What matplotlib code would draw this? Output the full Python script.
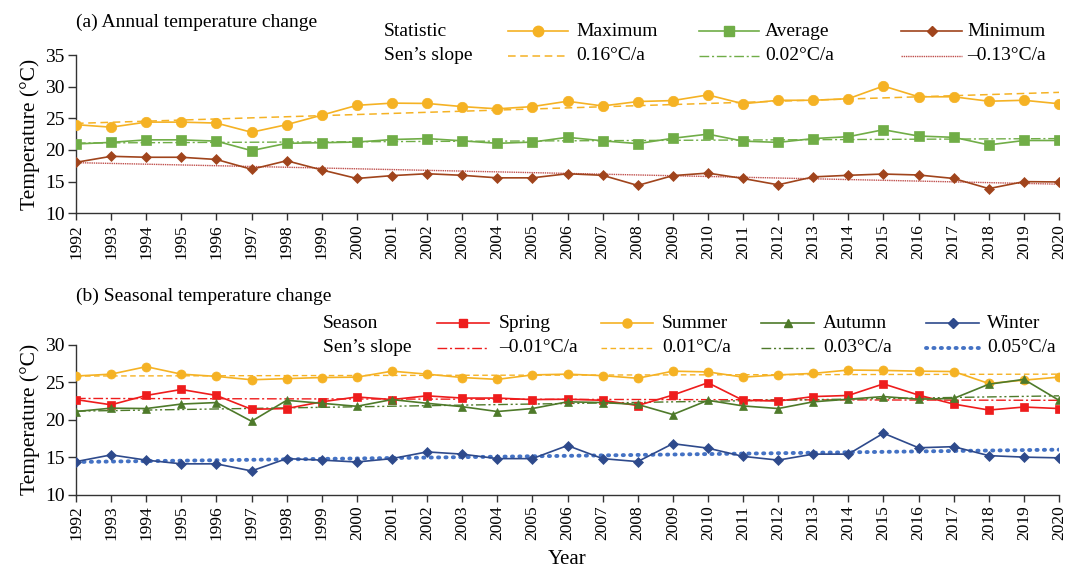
import matplotlib
matplotlib.use("Agg")
import matplotlib.pyplot as plt
from matplotlib.lines import Line2D
import numpy as np

plt.rcParams['font.family'] = ['Liberation Serif', 'DejaVu Serif']
plt.rcParams['mathtext.fontset'] = 'stix'

years = list(range(1992, 2021))

# Panel (a): annual statistics
t_max = [24.0, 23.6, 24.4, 24.4, 24.25, 22.8, 24.0, 25.5, 27.05, 27.4, 27.35, 26.85, 26.5, 26.85,
         27.7, 26.95, 27.65, 27.8, 28.7, 27.3, 27.85, 27.85, 28.1, 30.1, 28.4, 28.4, 27.7, 27.85, 27.3]
t_avg = [20.95, 21.2, 21.6, 21.6, 21.4, 19.9, 21.05, 21.15, 21.25, 21.65, 21.8, 21.45, 21.05, 21.25,
         22.0, 21.45, 21.0, 21.85, 22.5, 21.4, 21.2, 21.8, 22.1, 23.2, 22.2, 22.0, 20.8, 21.5, 21.5]
t_min = [18.05, 19.0, 18.85, 18.85, 18.5, 16.95, 18.3, 16.85, 15.5, 15.95, 16.25, 16.0, 15.6, 15.6,
         16.25, 16.0, 14.4, 15.95, 16.35, 15.5, 14.5, 15.75, 16.0, 16.2, 16.05, 15.5, 13.9, 15.0, 14.95]
annual_labels = ['Maximum', 'Average', 'Minimum']
annual_slopes = ['0.16°C/a', '0.02°C/a', '–0.13°C/a']
annual_trend_start = [24.2, 21.1, 18.0]
annual_trend_end = [29.1, 21.8, 14.6]

# Panel (b): seasonal means
t_spring = [22.7, 22.0, 23.25, 24.05, 23.25, 21.4, 21.5, 22.4, 23.05, 22.7, 23.2, 22.9, 22.9, 22.7,
            22.75, 22.6, 21.9, 23.3, 24.95, 22.6, 22.5, 23.1, 23.25, 24.8, 23.3, 22.1, 21.3, 21.7, 21.5]
t_summer = [25.85, 26.1, 27.1, 26.1, 25.8, 25.35, 25.5, 25.65, 25.7, 26.5, 26.1, 25.65, 25.4, 26.0,
            26.1, 25.9, 25.55, 26.5, 26.4, 25.7, 26.0, 26.2, 26.65, 26.6, 26.5, 26.45, 24.85, 25.3, 25.7]
t_autumn = [21.1, 21.55, 21.5, 22.1, 22.3, 19.8, 22.6, 22.2, 21.8, 22.7, 22.2, 21.75, 21.1, 21.5,
            22.4, 22.3, 22.05, 20.7, 22.6, 21.85, 21.5, 22.4, 22.75, 23.1, 22.75, 22.85, 24.75, 25.4, 22.6]
t_winter = [14.4, 15.3, 14.6, 14.1, 14.1, 13.15, 14.8, 14.6, 14.35, 14.8, 15.7, 15.4, 14.8, 14.8,
            16.55, 14.8, 14.4, 16.8, 16.2, 15.1, 14.6, 15.4, 15.4, 18.2, 16.25, 16.4, 15.2, 15.0, 14.9]
season_labels = ['Spring', 'Summer', 'Autumn', 'Winter']
season_slopes = ['–0.01°C/a', '0.01°C/a', '0.03°C/a', '0.05°C/a']
season_trend_start = [22.85, 25.85, 21.15, 14.35]
season_trend_end = [22.6, 26.1, 23.2, 16.0]

# ---------------- styling ----------------
W, H = 1072, 574
fig = plt.figure(figsize=(W / 100, H / 100), dpi=100)

def fx(x):
    return x / W

def fy(y):
    return 1 - y / H

C_MAX = '#F5B224'
C_AVG = '#70AD47'
C_MIN = '#A0441C'
C_MINT = '#C0504D'
C_SPR = '#EE1C1C'
C_SUM = '#F5B224'
C_AUT = '#4E7A2A'
C_WIN = '#2E4A8C'
C_WINT = '#4472C4'
SPINE = '#333333'

ax1 = fig.add_axes([fx(76), fy(213.3), fx(1059) - fx(76), fy(55) - fy(213.3)])
ax2 = fig.add_axes([fx(76), fy(494.5), fx(1059) - fx(76), fy(345) - fy(494.5)])

annual_series = [t_max, t_avg, t_min]
annual_colors = [C_MAX, C_AVG, C_MIN]
annual_trend_colors = [C_MAX, C_AVG, C_MINT]
annual_markers = [('o', 7.5), ('s', 6.8), ('D', 5.2)]
annual_trend_ls = [(0, (5, 3)), (0, (7, 2, 1.5, 2)), (0, (1, 0.6))]
annual_trend_lw = [1.1, 1.0, 1.0]

for i, s in enumerate(annual_series):
    ax1.plot([years[0], years[-1]], [annual_trend_start[i], annual_trend_end[i]],
             color=annual_trend_colors[i], ls=annual_trend_ls[i], lw=annual_trend_lw[i], zorder=2)
for i, s in enumerate(annual_series):
    m, ms = annual_markers[i]
    ax1.plot(years, s, color=annual_colors[i], marker=m, ms=ms, lw=1.2, zorder=3,
             markeredgewidth=0.5, markeredgecolor=annual_colors[i])

season_series = [t_spring, t_summer, t_autumn, t_winter]
season_colors = [C_SPR, C_SUM, C_AUT, C_WIN]
season_trend_colors = [C_SPR, C_SUM, C_AUT, C_WINT]
season_markers = [('s', 6.0), ('o', 6.5), ('^', 6.0), ('D', 4.6)]
season_trend_ls = [(0, (7, 2, 1.5, 2)), (0, (4, 2.5)), (0, (7, 2, 1.5, 2, 1.5, 2)), (0, (0.3, 1.6))]
season_trend_lw = [1.0, 1.0, 1.0, 2.8]
season_trend_cap = ['butt', 'butt', 'butt', 'round']

for i, s in enumerate(season_series):
    ax2.plot([years[0], years[-1]], [season_trend_start[i], season_trend_end[i]],
             color=season_trend_colors[i], ls=season_trend_ls[i], lw=season_trend_lw[i],
             dash_capstyle=season_trend_cap[i], zorder=2)
for i, s in enumerate(season_series):
    m, ms = season_markers[i]
    ax2.plot(years, s, color=season_colors[i], marker=m, ms=ms, lw=1.2, zorder=3,
             markeredgewidth=0.5, markeredgecolor=season_colors[i])

for ax, (lo, hi) in [(ax1, (10, 35)), (ax2, (10, 30))]:
    ax.set_xlim(1992, 2020)
    ax.set_ylim(lo, hi)
    ax.set_yticks(np.arange(lo, hi + 1, 5))
    ax.set_xticks(years)
    ax.set_xticklabels([str(y) for y in years], rotation=90, fontsize=12.5)
    ax.tick_params(axis='y', labelsize=14, length=6, width=1, color=SPINE, direction='out', pad=2)
    ax.tick_params(axis='x', length=5, width=1, color=SPINE, direction='out', pad=3)
    for sp in ['top', 'right']:
        ax.spines[sp].set_visible(False)
    for sp in ['left', 'bottom']:
        ax.spines[sp].set_color(SPINE)
        ax.spines[sp].set_linewidth(1.0)
    ax.set_ylabel('Temperature (°C)', fontsize=15.5, labelpad=4)
    ax.patch.set_alpha(0)

ax2.set_xlabel('Year', fontsize=15, labelpad=7)

fig.text(fx(76), fy(22), '(a) Annual temperature change', fontsize=14, va='center', ha='left')
fig.text(fx(76), fy(296), '(b) Seasonal temperature change', fontsize=14, va='center', ha='left')

# ---------------- legends ----------------
def legend_entry(x0, x1, y, color, ls='-', lw=1.2, marker=None, ms=6, cap='butt'):
    fig.add_artist(Line2D([fx(x0), fx(x1)], [fy(y), fy(y)], transform=fig.transFigure,
                          color=color, ls=ls, lw=lw, dash_capstyle=cap))
    if marker:
        fig.add_artist(Line2D([fx((x0 + x1) / 2)], [fy(y)], transform=fig.transFigure,
                              color=color, marker=marker, ms=ms, ls='none'))

# top legend
r1, r2 = 31, 56
fig.text(fx(384), fy(r1), 'Statistic', fontsize=14, va='center')
fig.text(fx(384), fy(r2), 'Sen’s slope', fontsize=14, va='center')
top_handles = [(508, 568, 576), (699, 759, 765), (901, 962, 967)]
for i, (h0, h1, tx) in enumerate(top_handles):
    m, ms = annual_markers[i]
    legend_entry(h0, h1, r1, annual_colors[i], marker=m, ms=ms)
    legend_entry(h0, h1, r2, annual_trend_colors[i], ls=annual_trend_ls[i], lw=annual_trend_lw[i])
    fig.text(fx(tx), fy(r1), annual_labels[i], fontsize=14, va='center')
    fig.text(fx(tx), fy(r2), annual_slopes[i], fontsize=14, va='center')

# bottom legend
b1, b2 = 323, 348
fig.text(fx(323), fy(b1), 'Season', fontsize=14, va='center')
fig.text(fx(323), fy(b2), 'Sen’s slope', fontsize=14, va='center')
bot_handles = [(437, 489, 499), (601, 653, 662), (761, 814, 823), (926, 979, 987)]
for i, (h0, h1, tx) in enumerate(bot_handles):
    m, ms = season_markers[i]
    legend_entry(h0, h1, b1, season_colors[i], marker=m, ms=ms)
    legend_entry(h0, h1, b2, season_trend_colors[i], ls=season_trend_ls[i],
                 lw=season_trend_lw[i], cap=season_trend_cap[i])
    fig.text(fx(tx), fy(b1), season_labels[i], fontsize=14, va='center')
    fig.text(fx(tx), fy(b2), season_slopes[i], fontsize=14, va='center')

fig.savefig('out.png', dpi=100)
